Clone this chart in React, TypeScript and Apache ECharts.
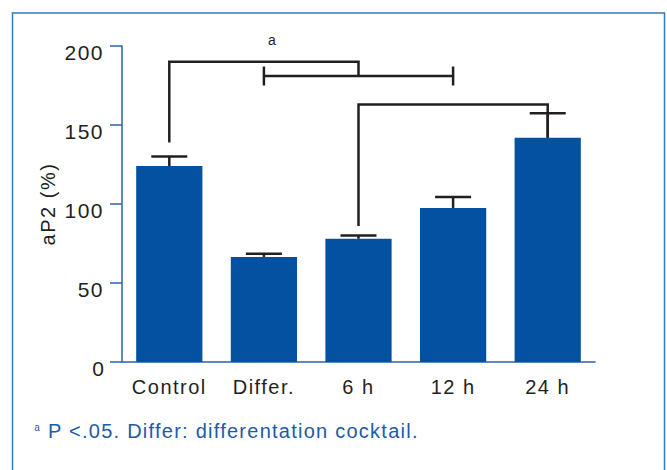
import React, { useEffect, useRef } from "react";
import * as echarts from "echarts";

const categories = ["Control", "Differ.", "6 h", "12 h", "24 h"];
const means = [124, 66.5, 78, 97.5, 142];
const errors = [6, 2, 2, 7, 15.5];
const yTicks = { min: 0, max: 200, interval: 50 };
const yTitle = "aP2 (%)";
const sigMark = "a";
const footnoteMark = "a";
const footnote = "P <.05. Differ: differentation cocktail.";

// significance brackets: polylines as [categoryIndex, value]
const brackets: number[][][][] = [
  [[[0, 139], [0, 190], [2, 190], [2, 181]]],
  [
    [[1, 181], [3, 181]],
    [[1, 187], [1, 175]],
    [[3, 187], [3, 175]],
  ],
  [[[2, 86], [2, 163], [4, 163], [4, 142]]],
];

const FONT = "'Liberation Sans', Arial, Helvetica, sans-serif";
const BLUE_AXIS = "#2464b4";
const BAR_BLUE = "#0450a1";
const INK = "#231f20";
const NOTE_BLUE = "#1d5ba8";

export default function App() {
  const ref = useRef<HTMLDivElement>(null);
  useEffect(() => {
    if (!ref.current) return;
    const chart = echarts.init(ref.current, null, { renderer: "svg" });
    const spaceText = () => {
      const dom = chart.getDom();
      dom.querySelectorAll("text").forEach((t) => {
        const s = t.textContent || "";
        let ls = "1.5";
        if (s.length <= 1) ls = "0";
        if (s === footnote) ls = "1.25";
        t.setAttribute("letter-spacing", ls);
      });
    };
    chart.on("finished", spaceText);
    chart.setOption({
      animation: false,
      backgroundColor: "#ffffff",
      grid: { left: 122, right: 72, top: 46, bottom: 108 },
      xAxis: {
        type: "category",
        data: categories,
        axisLine: { lineStyle: { color: BLUE_AXIS, width: 1.5 } },
        axisTick: { alignWithLabel: true, length: 10, lineStyle: { color: BLUE_AXIS, width: 1.5 } },
        axisLabel: { color: INK, fontSize: 20, fontFamily: FONT, margin: 15 },
      },
      yAxis: {
        type: "value",
        min: yTicks.min,
        max: yTicks.max,
        interval: yTicks.interval,
        name: yTitle,
        nameLocation: "middle",
        nameGap: 63,
        nameRotate: 90,
        nameTextStyle: { color: INK, fontSize: 20, fontFamily: FONT },
        axisLine: { show: true, lineStyle: { color: BLUE_AXIS, width: 1.5 } },
        axisTick: { show: true, length: 12, lineStyle: { color: BLUE_AXIS, width: 1.5 } },
        axisLabel: {
          color: INK,
          fontSize: 21,
          fontFamily: FONT,
          margin: 18,
          verticalAlign: "top",
          lineHeight: 12,
        },
        splitLine: { show: false },
      },
      series: [
        {
          type: "bar",
          data: means,
          barCategoryGap: "30%",
          itemStyle: { color: BAR_BLUE },
          z: 2,
        },
        {
          type: "custom",
          z: 5,
          data: means.map((m, i) => [i, m, errors[i]]),
          encode: { x: 0, y: 1 },
          renderItem: (params: any, api: any) => {
            const x = api.value(0);
            const m = api.value(1);
            const e = api.value(2);
            const base = api.coord([x, m]);
            const top = api.coord([x, m + e]);
            const half = 18;
            const style = { stroke: INK, lineWidth: 2.5 };
            return {
              type: "group",
              children: [
                { type: "line", shape: { x1: base[0], y1: base[1], x2: top[0], y2: top[1] }, style },
                { type: "line", shape: { x1: top[0] - half, y1: top[1], x2: top[0] + half, y2: top[1] }, style },
              ],
            };
          },
        },
        {
          type: "custom",
          z: 6,
          data: brackets.map((_, i) => [i, 100]),
          encode: { x: 0, y: 1 },
          renderItem: (params: any, api: any) => {
            const segs = brackets[params.dataIndex];
            return {
              type: "group",
              children: segs.map((seg) => ({
                type: "polyline",
                shape: { points: seg.map((p) => api.coord(p)) },
                style: { stroke: INK, lineWidth: 2.5, fill: "none" },
              })),
            };
          },
        },
      ],
      graphic: [
        {
          type: "rect",
          shape: { x: 12.5, y: 13, width: 652, height: 470 },
          style: { fill: "none", stroke: "#3a78c4", lineWidth: 1.5 },
          silent: true,
        },
        {
          type: "text",
          x: 272,
          y: 40,
          style: { text: sigMark, fill: INK, fontSize: 14, fontFamily: FONT, textAlign: "center", textVerticalAlign: "middle" },
        },
        {
          type: "text",
          x: 37,
          y: 427,
          style: { text: footnoteMark, fill: NOTE_BLUE, fontSize: 10, fontFamily: FONT, textAlign: "center", textVerticalAlign: "middle" },
        },
        {
          type: "text",
          x: 48,
          y: 431,
          style: { text: footnote, fill: NOTE_BLUE, fontSize: 20, fontFamily: FONT, textAlign: "left", textVerticalAlign: "middle" },
        },
      ],
    });
    spaceText();
    return () => chart.dispose();
  }, []);
  return <div ref={ref} style={{ position: "fixed", left: 0, top: 0, width: 667, height: 470 }} />;
}
